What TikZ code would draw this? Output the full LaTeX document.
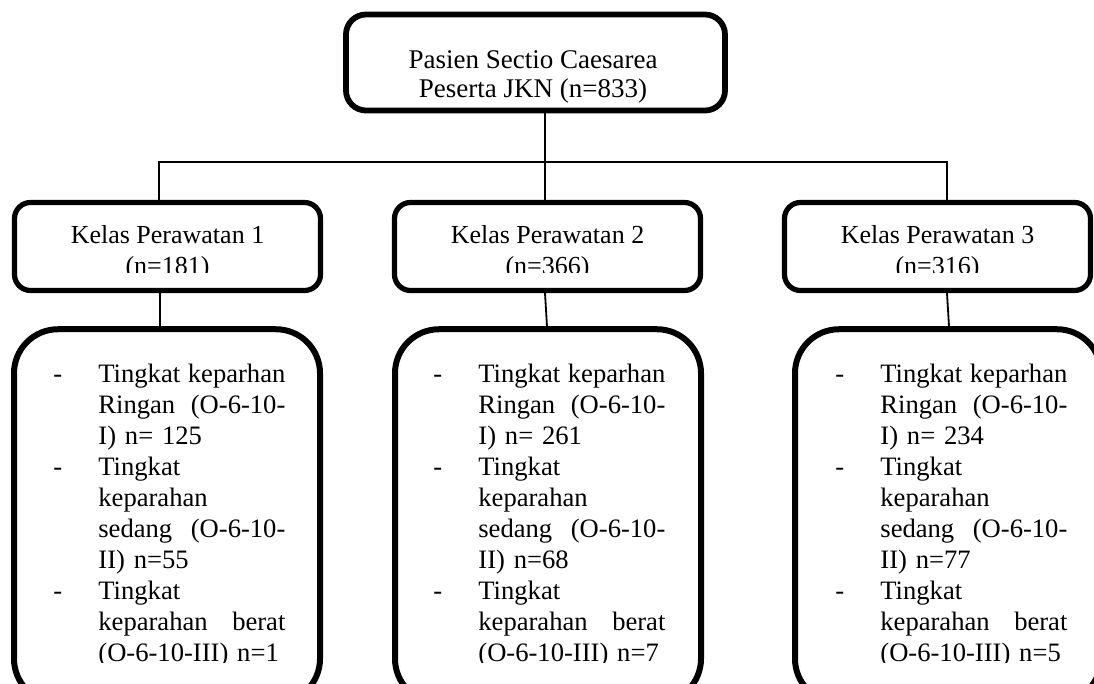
\documentclass[tikz,border=0pt]{standalone}
\usepackage{fontspec}
\setmainfont{Liberation Serif}
\usetikzlibrary{positioning}

\tikzset{
  topbox/.style={draw, line width=2.9pt, rounded corners=10pt, minimum width=189.5pt, minimum height=48pt, inner sep=0pt},
  kelasbox/.style={draw, line width=2.6pt, rounded corners=8pt, minimum width=153pt, minimum height=44pt, inner sep=0pt},
  detailbox/.style={draw, line width=3pt, rounded corners=22pt, minimum width=153pt, minimum height=186.75pt, inner sep=0pt},
  boxtext/.style={inner sep=0pt, align=center, font=\fontsize{13}{15.5}\selectfont},
  listtext/.style={inner sep=0pt, text width=93.5pt, align=left, anchor=north west, font=\fontsize{13.3}{15.5}\selectfont},
  link/.style={line width=0.9pt}
}
\newcommand{\itm}{\leavevmode\llap{\makebox[22.5pt][l]{-}}}
\newcommand{\jline}[1]{\makebox[93.5pt][s]{\spaceskip=0.25em plus 1fil\relax #1}}

\begin{document}
\begin{tikzpicture}[x=0.5pt, y=-0.5pt]
\useasboundingbox (0,0) rectangle (1094,684);
\fill[white] (0,0) rectangle (1094,684);
\clip (0,0) rectangle (1094,684);

% boxes
\node[topbox] (root) at (535.5,62.5) {};
\node[kelasbox] (k1) at (167.5,246.5) {};
\node[kelasbox] (k2) at (547.5,246.5) {};
\node[kelasbox] (k3) at (937.5,246.5) {};
\node[detailbox] (d1) at (167,516) {};
\node[detailbox] (d2) at (548,516) {};
\node[detailbox] (d3) at (948,516) {};

% texts
\node[boxtext, anchor=north, font=\fontsize{13.5}{14.5}\selectfont] (troot) at (533,50) {Pasien Sectio Caesarea\\Peserta JKN (n=833)};

\begin{scope}
\clip (k1.north west) rectangle (k3.east |- 0,273);
\node[boxtext, anchor=north] (t1) at (k1.north |- 0,225) {Kelas Perawatan 1\\(n=181)};
\node[boxtext, anchor=north] (t2) at (k2.north |- 0,225) {Kelas Perawatan 2\\(n=366)};
\node[boxtext, anchor=north] (t3) at (k3.north |- 0,225) {Kelas Perawatan 3\\(n=316)};
\end{scope}

\begin{scope}
\clip (d1.north west) rectangle (1094,662);
\node[listtext] (l1) at (98,363.5) {\itm\jline{Tingkat keparhan}\\
\jline{Ringan (O-6-10-}\\
I) n= 125\\
\itm Tingkat\\
keparahan\\
\jline{sedang (O-6-10-}\\
II) n=55\\
\itm Tingkat\\
\jline{keparahan berat}\\
(O-6-10-III) n=1};
\node[listtext] (l2) at (478,363.5) {\itm\jline{Tingkat keparhan}\\
\jline{Ringan (O-6-10-}\\
I) n= 261\\
\itm Tingkat\\
keparahan\\
\jline{sedang (O-6-10-}\\
II) n=68\\
\itm Tingkat\\
\jline{keparahan berat}\\
(O-6-10-III) n=7};
\node[listtext] (l3) at (880,363.5) {\itm\jline{Tingkat keparhan}\\
\jline{Ringan (O-6-10-}\\
I) n= 234\\
\itm Tingkat\\
keparahan\\
\jline{sedang (O-6-10-}\\
II) n=77\\
\itm Tingkat\\
\jline{keparahan berat}\\
(O-6-10-III) n=5};
\end{scope}

% connectors
\coordinate (bus) at (545,162);
\coordinate (b1) at (159,162);
\coordinate (b3) at (947,162);
\draw[link] (bus |- root.south) -- (bus |- k2.north);
\draw[link] (b1 |- k1.north) -- (b1) -- (b3) -- (b3 |- k3.north);
\draw[link] ([xshift=-3.75pt]k1.south) -- ([xshift=-3.5pt]d1.north);
\draw[link] ([xshift=-1.25pt]k2.south) -- ([xshift=-0.5pt]d2.north);
\draw[link] ([xshift=4.75pt]k3.south) -- ([xshift=0.5pt]d3.north);

\end{tikzpicture}
\end{document}
